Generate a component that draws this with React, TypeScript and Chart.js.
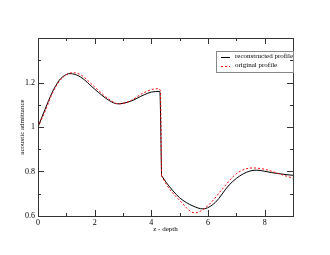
import React, { useEffect, useRef } from "react";
import { Chart, registerables } from "chart.js";
Chart.register(...registerables);

const recX = [0, 0.25, 0.5, 0.75, 1.0, 1.13, 1.5, 2.0, 2.5, 2.82, 3.25, 3.75, 4.0, 4.3, 4.36, 4.53, 5.0, 5.47, 5.82, 6.25, 6.75, 7.25, 7.7, 8.25, 8.75, 9.0];
const recY = [1.0, 1.08, 1.155, 1.21, 1.236, 1.24, 1.225, 1.17, 1.12, 1.104, 1.115, 1.145, 1.157, 1.16, 0.782, 0.75, 0.682, 0.645, 0.632, 0.66, 0.74, 0.79, 0.806, 0.795, 0.786, 0.783];
const origX = [0, 0.25, 0.5, 0.75, 1.0, 1.24, 1.5, 2.0, 2.5, 2.85, 3.25, 3.75, 4.2, 4.32, 4.36, 4.53, 5.0, 5.53, 6.0, 6.5, 7.0, 7.57, 8.0, 8.5, 9.0];
const origY = [1.0, 1.07, 1.15, 1.205, 1.235, 1.244, 1.235, 1.18, 1.125, 1.104, 1.117, 1.155, 1.172, 1.165, 0.782, 0.742, 0.67, 0.614, 0.647, 0.72, 0.79, 0.816, 0.81, 0.79, 0.77];
// index of the first point below the step
const recBreak = 14;
const origBreak = 14;
const xMajor = [0, 2, 4, 6, 8];
const xMinor = [1, 3, 5, 7, 9];
const yMajor = [0.6, 0.8, 1.0, 1.2, 1.4];
const yLabels = ["0.6", "0.8", "1", "1.2", ""];
const yMinor = [0.7, 0.9, 1.1, 1.3];
const seriesNames = ["reconstructed profile", "original profile"];
const xTitle = "z - depth";
const yTitle = "acoustic admittance";

const FONT = "'Liberation Serif', 'DejaVu Serif', serif";

const framePlugin = {
  id: "frame",
  afterDraw(chart: any) {
    const ctx = chart.ctx;
    const { left, right, top, bottom } = chart.chartArea;
    const xs = chart.scales.x;
    const ys = chart.scales.y;
    ctx.save();
    ctx.strokeStyle = "#333";
    ctx.lineWidth = 1;
    ctx.strokeRect(left + 0.5, top + 0.5, right - left, bottom - top);
    ctx.beginPath();
    const tick = (x1: number, y1: number, x2: number, y2: number) => {
      ctx.moveTo(x1, y1);
      ctx.lineTo(x2, y2);
    };
    xMajor.forEach((v) => {
      const p = Math.round(xs.getPixelForValue(v)) + 0.5;
      tick(p, bottom, p, bottom - 6);
      tick(p, top, p, top + 6);
    });
    xMinor.forEach((v) => {
      const p = Math.round(xs.getPixelForValue(v)) + 0.5;
      tick(p, bottom, p, bottom - 3);
      tick(p, top, p, top + 3);
    });
    yMajor.forEach((v) => {
      const p = Math.round(ys.getPixelForValue(v)) + 0.5;
      tick(left, p, left + 6, p);
      tick(right, p, right - 6, p);
    });
    yMinor.forEach((v) => {
      const p = Math.round(ys.getPixelForValue(v)) + 0.5;
      tick(left, p, left + 3, p);
      tick(right, p, right - 3, p);
    });
    ctx.stroke();

    ctx.fillStyle = "#000";
    ctx.font = `8px ${FONT}`;
    ctx.textAlign = "center";
    ctx.textBaseline = "top";
    xMajor.forEach((v) => {
      ctx.fillText(String(v), xs.getPixelForValue(v), bottom + 3);
    });
    ctx.textAlign = "right";
    ctx.textBaseline = "middle";
    yMajor.forEach((v, i) => {
      ctx.fillText(yLabels[i], left - 3, ys.getPixelForValue(v));
    });

    ctx.font = `7px ${FONT}`;
    ctx.textAlign = "center";
    ctx.textBaseline = "middle";
    ctx.fillText(xTitle, (left + right) / 2, bottom + 13);
    ctx.save();
    ctx.translate(left - 16, (top + bottom) / 2);
    ctx.rotate(-Math.PI / 2);
    ctx.fillText(yTitle, 0, 0);
    ctx.restore();

    // legend
    const lx = right - 77;
    const ly = top + 13;
    ctx.strokeStyle = "#888";
    ctx.strokeRect(lx + 0.5, ly + 0.5, 77, 21);
    ctx.textAlign = "left";
    ctx.font = `7px ${FONT}`;
    const rows = [ly + 5.5, ly + 14.5];
    const colors = ["#000", "#ff0000"];
    rows.forEach((ry, i) => {
      ctx.beginPath();
      ctx.strokeStyle = colors[i];
      ctx.setLineDash(i === 1 ? [2, 2] : []);
      ctx.moveTo(lx + 5, Math.round(ry) + 0.5);
      ctx.lineTo(lx + 14, Math.round(ry) + 0.5);
      ctx.stroke();
      ctx.setLineDash([]);
      ctx.fillStyle = "#000";
      ctx.fillText(seriesNames[i], lx + 19, ry);
    });
    ctx.restore();
  },
};

function pts(xs: number[], ys: number[]) {
  return xs.map((x, i) => ({ x, y: ys[i] }));
}

export default function App() {
  const ref = useRef<HTMLCanvasElement>(null);
  useEffect(() => {
    const red = { borderColor: "#ff0000", borderWidth: 1, borderDash: [2, 2], pointRadius: 0, cubicInterpolationMode: "monotone", fill: false };
    const blk = { borderColor: "#000", borderWidth: 1, pointRadius: 0, cubicInterpolationMode: "monotone", fill: false };
    const o = pts(origX, origY);
    const r = pts(recX, recY);
    const chart = new Chart(ref.current!, {
      type: "line",
      data: {
        datasets: [
          { label: seriesNames[1], data: o.slice(0, origBreak + 1), ...red },
          { label: seriesNames[1], data: o.slice(origBreak), ...red },
          { label: seriesNames[0], data: r.slice(0, recBreak + 1), ...blk },
          { label: seriesNames[0], data: r.slice(recBreak), ...blk },
        ],
      },
      options: {
        animation: false,
        responsive: false,
        layout: { padding: { left: 38, right: 37, top: 38, bottom: 39 } },
        plugins: { legend: { display: false }, tooltip: { enabled: false } },
        scales: {
          x: {
            type: "linear",
            min: 0,
            max: 9,
            ticks: { display: false },
            grid: { display: false },
            border: { display: false },
            afterFit: (s: any) => { s.height = 0; },
          },
          y: {
            type: "linear",
            min: 0.6,
            max: 1.4,
            ticks: { display: false },
            grid: { display: false },
            border: { display: false },
            afterFit: (s: any) => { s.width = 0; },
          },
        },
      },
      plugins: [framePlugin],
    } as any);
    return () => chart.destroy();
  }, []);
  return (
    <div style={{ position: "fixed", left: 0, top: 0, width: 330, height: 255, background: "#fff" }}>
      <canvas ref={ref} width={330} height={255} style={{ width: 330, height: 255 }} />
    </div>
  );
}
